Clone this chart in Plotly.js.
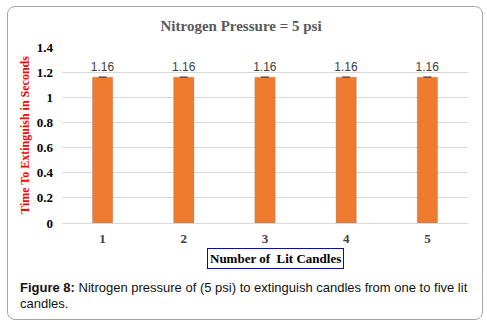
<!DOCTYPE html>
<html>
<head>
<meta charset="utf-8">
<script src="https://cdn.plot.ly/plotly-3.0.1.min.js"></script>
<style>
  html, body { margin: 0; padding: 0; background: #fff; }
  #wrap { position: relative; width: 487px; height: 323px; }
  #chart { width: 487px; height: 323px; }
  #frame {
    position: absolute; left: 7px; top: 6px; width: 474px; height: 312px;
    border: 1.5px solid #a6a6a6; border-radius: 8px; pointer-events: none;
  }
</style>
</head>
<body>
<div id="wrap">
  <div id="chart"></div>
  <div id="frame"></div>
</div>
<script>
  // candles lit vs. time to put them out
  var candles = ['1', '2', '3', '4', '5'];
  var seconds = [1.16, 1.16, 1.16, 1.16, 1.16];
  var errs = [0, 0, 0, 0, 0];

  var serif = '"Liberation Serif", "Times New Roman", serif';
  var sans = '"Liberation Sans", Arial, sans-serif';

  var trace = {
    type: 'bar',
    x: candles,
    y: seconds,
    width: 0.25,
    marker: {
      color: '#EF7B2E',
      line: { color: 'rgba(120,120,120,0.25)', width: 1 }
    },
    error_y: { type: 'data', array: errs, visible: true, width: 4, thickness: 1.2, color: '#404040' },
    text: seconds.map(function(v) { return v.toFixed(2); }),
    textposition: 'outside',
    constraintext: 'none',
    textfont: { family: sans, size: 12, color: '#404040' },
    cliponaxis: false,
    hoverinfo: 'x+y'
  };

  var layout = {
    width: 487,
    height: 323,
    margin: { l: 62, r: 19, t: 47, b: 100 },
    paper_bgcolor: '#fff',
    plot_bgcolor: '#fff',
    showlegend: false,
    title: {
      text: '<b>Nitrogen Pressure = 5 psi</b>',
      font: { family: serif, size: 15, color: '#595959' },
      x: 0.495, xanchor: 'center',
      y: 0.92, yanchor: 'middle'
    },
    xaxis: {
      type: 'category',
      showgrid: false,
      showline: false,
      ticks: '',
      tickfont: { family: serif, size: 13, color: '#404040', weight: 'bold' },
      ticklabelstandoff: 6
    },
    yaxis: {
      range: [0, 1.4],
      dtick: 0.2,
      showgrid: true,
      gridcolor: '#d9d9d9',
      zeroline: true,
      zerolinecolor: '#d9d9d9',
      ticks: '',
      tickfont: { family: serif, size: 13, color: '#000', weight: 'bold' },
      ticklabelstandoff: 8,
      title: {
        text: '<b>Time To Extinguish in Seconds</b>',
        font: { family: serif, size: 12, color: '#ff0000' },
        standoff: 4
      }
    },
    annotations: [
      {
        xref: 'paper', yref: 'paper', x: 0.525, y: -0.199,
        xanchor: 'center', yanchor: 'middle', showarrow: false,
        text: '<b>Number of  Lit Candles</b>',
        font: { family: serif, size: 13, color: '#000' },
        bordercolor: '#0000ff', borderwidth: 1, borderpad: 2
      },
      {
        xref: 'paper', yref: 'paper', x: -0.108, y: -0.369,
        xanchor: 'left', yanchor: 'middle', showarrow: false, align: 'left',
        text: '<b>Figure 8:</b> Nitrogen pressure of (5 psi) to extinguish candles from one to five lit',
        font: { family: sans, size: 13, color: '#111' }
      },
      {
        xref: 'paper', yref: 'paper', x: -0.108, y: -0.455,
        xanchor: 'left', yanchor: 'middle', showarrow: false, align: 'left',
        text: 'candles.',
        font: { family: sans, size: 13, color: '#111' }
      }
    ]
  };

  Plotly.newPlot('chart', [trace], layout, { displayModeBar: false, responsive: false });
</script>
</body>
</html>
